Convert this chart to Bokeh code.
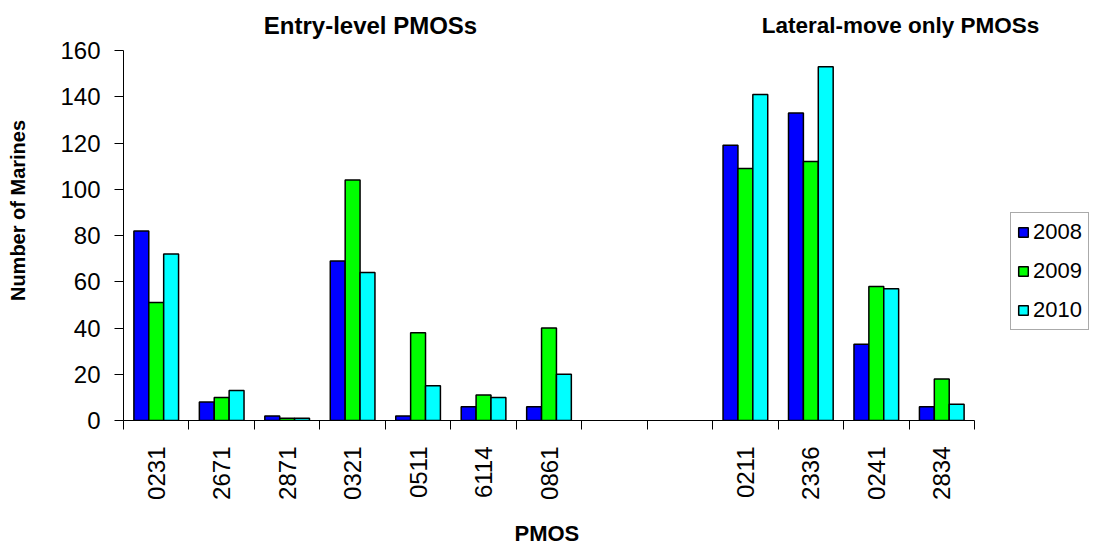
import math
from bokeh.plotting import figure
from bokeh.models import (ColumnDataSource, Range1d, FixedTicker, Legend, LegendItem, Label, Title)
from bokeh.embed import file_html
from bokeh.resources import INLINE

# ---- data ----
slots = ["0231", "2671", "2871", "0321", "0511", "6114", "0861", "", "", "0211", "2336", "0241", "2834"]
pmos = ["0231", "2671", "2871", "0321", "0511", "6114", "0861", "0211", "2336", "0241", "2834"]
y2008 = [82, 8, 2, 69, 2, 6, 6, 119, 133, 33, 6]
y2009 = [51, 10, 1, 104, 38, 11, 40, 109, 112, 58, 18]
y2010 = [72, 13, 1, 64, 15, 10, 20, 141, 153, 57, 7]
years = ["2008", "2009", "2010"]
colors = ["#0000FF", "#00FF00", "#00FFFF"]
y_ticks = [0, 20, 40, 60, 80, 100, 120, 140, 160]
group_titles = ["Entry-level PMOSs", "Lateral-move only PMOSs"]

FONT = "Liberation Sans"

pos = [slots.index(c) + 0.5 for c in pmos]
bar_w = 0.2275
y_max = 160
px_per_unit = 370 / y_max        # axis 0..160 spans 370 px
px_per_slot = 851 / len(slots)   # 13 slots span 851 px
FW, FH = 983, 420                # frame reaches the right and top edges

p = figure(frame_width=FW, frame_height=FH, width=1106, height=548,
           x_range=Range1d(0, FW / px_per_slot), y_range=Range1d(0, FH / px_per_unit),
           output_backend="svg", toolbar_location=None,
           min_border_left=123, min_border_right=0, min_border_top=0, min_border_bottom=128)
p.outline_line_color = None
p.xgrid.visible = False
p.ygrid.visible = False
p.background_fill_color = "white"
p.border_fill_color = "white"

renderers = []
for i, (yr, vals, col) in enumerate(zip(years, [y2008, y2009, y2010], colors)):
    src = ColumnDataSource(dict(x=[x + (i - 1) * bar_w for x in pos], top=vals))
    r = p.vbar(x="x", top="top", bottom=0, width=bar_w, source=src,
               fill_color=col, line_color="black", line_width=1.5)
    renderers.append(r)

# x axis: labels at slot centres, ticks at slot boundaries
xa = p.xaxis[0]
xa.bounds = (0, len(slots))
xa.ticker = FixedTicker(ticks=[i + 0.5 for i in range(len(slots))],
                        minor_ticks=list(range(len(slots) + 1)))
xa.major_label_overrides = {i + 0.5: s for i, s in enumerate(slots)}
xa.major_tick_out = 0
xa.major_tick_in = 0
xa.minor_tick_out = 9
xa.minor_tick_in = 0
xa.minor_tick_line_color = "black"
xa.axis_line_color = "black"
xa.major_label_orientation = math.pi / 2
xa.major_label_standoff = 17
xa.major_label_text_font = FONT
xa.major_label_text_font_size = "24px"
xa.major_label_text_color = "black"

# x axis title, placed below the axis and centred under the 13 slots
p.add_layout(Title(text="PMOS", align="left", offset=514 - 123, standoff=32,
                   text_font=FONT, text_font_size="22px", text_font_style="bold",
                   text_color="black"), "below")

ya = p.yaxis[0]
ya.ticker = FixedTicker(ticks=y_ticks)
ya.bounds = (0, y_max)
ya.minor_tick_line_color = None
ya.major_tick_out = 9
ya.major_tick_in = 0
ya.axis_line_color = "black"
ya.major_tick_line_color = "black"
ya.major_label_standoff = 14
ya.major_label_text_font = FONT
ya.major_label_text_font_size = "24px"
ya.major_label_text_color = "black"
ya.axis_label = "Number of Marines"
ya.axis_label_text_font = FONT
ya.axis_label_text_font_size = "20px"
ya.axis_label_text_font_style = "bold"
ya.axis_label_text_color = "black"
ya.axis_label_standoff = 28

# group titles (inside the frame, above the 160 line)
for txt, xc, fs in zip(group_titles, [247, 777], ["24px", "22.5px"]):
    p.add_layout(Label(x=xc, y=395, x_units="screen", y_units="screen", text=txt,
                       text_font=FONT, text_font_size=fs, text_font_style="bold",
                       text_align="center", text_baseline="middle", text_color="black"))

legend = Legend(items=[LegendItem(label=y, renderers=[r]) for y, r in zip(years, renderers)],
                location=(887, 90), label_text_font=FONT, label_text_font_size="22px",
                label_text_color="black",
                glyph_width=12, glyph_height=12, label_standoff=4, spacing=13,
                padding=6, border_line_color="#555555", border_line_width=1,
                background_fill_alpha=1.0)
p.add_layout(legend, "center")

open("out.html", "w").write(file_html(p, INLINE))
